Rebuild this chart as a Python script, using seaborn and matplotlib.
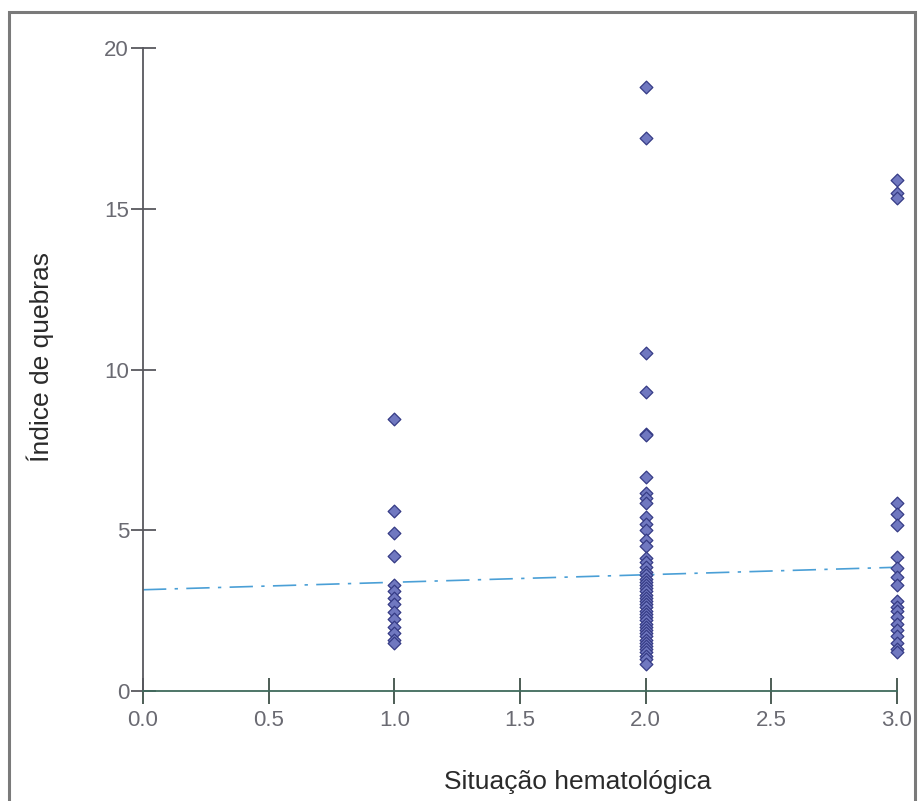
import pandas as pd
import matplotlib.pyplot as plt
import seaborn as sns
from matplotlib.patches import Rectangle

# values
sit_1 = [8.45, 5.6, 4.9, 4.2, 3.3, 3.1, 2.9, 2.7, 2.45, 2.25, 2.0, 1.8, 1.6, 1.5]
sit_2 = [18.8, 17.2, 10.5, 9.3, 8.0, 7.95, 6.65, 6.15, 6.0, 5.85, 5.4, 5.2, 5.0,
         4.7, 4.5, 4.15, 4.0, 3.85, 3.7, 3.6, 3.5, 3.4, 3.3, 3.2, 3.1, 3.0, 2.9,
         2.8, 2.7, 2.6, 2.5, 2.4, 2.3, 2.2, 2.1, 2.0, 1.9, 1.8, 1.7, 1.6, 1.5,
         1.4, 1.3, 1.2, 1.1, 1.0, 0.85]
sit_3 = [15.9, 15.5, 15.35, 5.85, 5.5, 5.15, 4.17, 3.83, 3.55, 3.3, 2.8, 2.6,
         2.5, 2.3, 2.1, 1.9, 1.7, 1.5, 1.3, 1.2]
fit_x = [0.0, 3.0]
fit_y = [3.15, 3.85]
x_ticks = [0.0, 0.5, 1.0, 1.5, 2.0, 2.5, 3.0]
y_ticks = [0, 5, 10, 15, 20]

df = pd.DataFrame({
    'Situação hematológica': [1.0] * len(sit_1) + [2.0] * len(sit_2) + [3.0] * len(sit_3),
    'Índice de quebras': sit_1 + sit_2 + sit_3,
})
fit = pd.DataFrame({'x': fit_x, 'y': fit_y})

sns.set_style('white')
plt.rcParams['font.family'] = ['Liberation Sans', 'DejaVu Sans']

fig = plt.figure(figsize=(9.2, 8.01), dpi=100)
ax = fig.add_axes([0.1554, 0.1373, 0.8196, 0.8027])

sns.lineplot(data=fit, x='x', y='y', ax=ax, color='#4a9fd6', linewidth=1.2,
             linestyle=(0, (14, 5, 2, 5)), zorder=2)
sns.scatterplot(data=df, x='Situação hematológica', y='Índice de quebras', ax=ax,
                marker='D', s=42, color='#7078c0', edgecolor='#353b85',
                linewidth=0.9, zorder=3, clip_on=False)

ax.set_xlim(0, 3)
ax.set_ylim(0, 20)
ax.set_xticks(x_ticks)
ax.set_xticklabels([f'{v:.1f}' for v in x_ticks])
ax.set_yticks(y_ticks)
ax.set_yticklabels([str(v) for v in y_ticks])

for s in ['top', 'right']:
    ax.spines[s].set_visible(False)
ax.spines['bottom'].set_color('#3f6a5c')
ax.spines['left'].set_color('#58585e')
ax.spines['bottom'].set_linewidth(1.3)
ax.spines['left'].set_linewidth(1.3)

ax.tick_params(axis='x', bottom=True, direction='inout', length=19, width=1.3,
               color='#3f5048', labelsize=16, labelcolor='#6a6a72', pad=4)
ax.tick_params(axis='y', left=True, direction='inout', length=18, width=1.3,
               color='#58585e', labelsize=16, labelcolor='#6a6a72', pad=1)

ax.set_xlabel('Situação hematológica', fontsize=19, color='#2a2a2a', labelpad=28)
ax.set_ylabel('Índice de quebras', fontsize=19, color='#2a2a2a', labelpad=36)
# labels in the original sit off-centre
ax.xaxis.label.set_x(0.576)
ax.yaxis.label.set_y(0.52)

# outer frame
fig.patches.append(Rectangle((0.0098, -0.02), 0.985, 1.005, transform=fig.transFigure,
                             fill=False, edgecolor='#7a7a7a', linewidth=2.2, clip_on=False))

plt.savefig('out.png', dpi=100)
